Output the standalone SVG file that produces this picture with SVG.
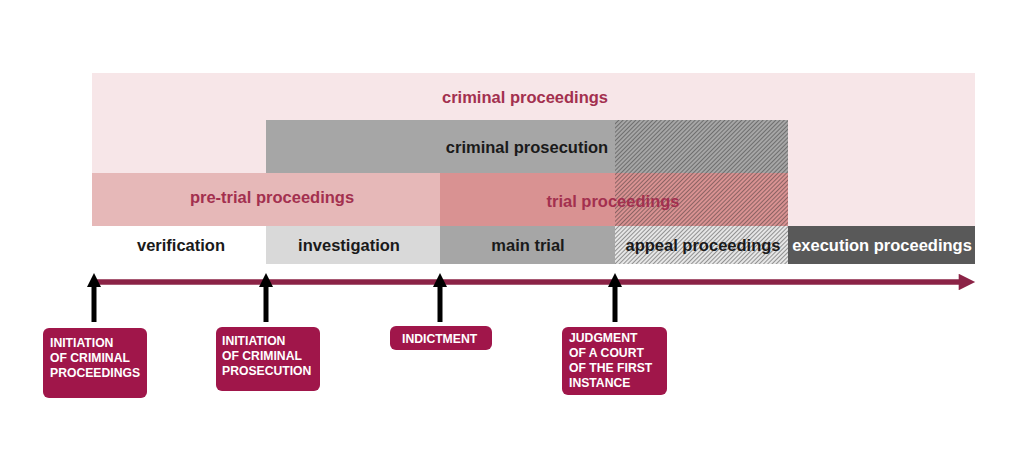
<svg xmlns="http://www.w3.org/2000/svg" width="1024" height="463" viewBox="0 0 1024 463">
<defs>
<style>
.lbl{font-family:"Liberation Sans",Arial,sans-serif;font-weight:bold;font-size:16.5px;text-anchor:middle}
.red{fill:#a3304f}
.blk{fill:#1a1a1a}
.wht{fill:#ffffff}
.box{fill:#a0164a}
.bt{font-family:"Liberation Sans",Arial,sans-serif;font-weight:bold;font-size:12.2px;fill:#ffffff}
.up{stroke:#000;stroke-width:5;fill:none}
</style>
<pattern id="hatch" patternUnits="userSpaceOnUse" width="3" height="3" patternTransform="rotate(45)">
<rect width="3" height="3" fill="none"/>
<line x1="0" y1="0" x2="0" y2="3" stroke="#2a2a2a" stroke-width="0.9"/>
</pattern>
<marker id="ah" viewBox="0 0 10 10" refX="2" refY="5" markerWidth="4" markerHeight="3" orient="auto" markerUnits="strokeWidth">
<path d="M0,0 L10,5 L0,10 z" fill="#8b2346"/>
</marker>
<marker id="uh" viewBox="0 0 10 10" refX="5" refY="5" markerWidth="3" markerHeight="2.8" orient="auto" markerUnits="strokeWidth">
<path d="M0,0 L10,5 L0,10 z" fill="#000"/>
</marker>
</defs>
<rect width="1024" height="463" fill="#ffffff"/>
<g id="criminal-proceedings">
<rect x="92" y="73" width="883" height="154" fill="#f7e6e8"/>
<text class="lbl red" x="525" y="103">criminal proceedings</text>
</g>
<g id="criminal-prosecution">
<rect x="266" y="120" width="522" height="53" fill="#a6a6a6"/>
<rect x="615" y="120" width="173" height="53" fill="url(#hatch)"/>
<text class="lbl blk" x="527" y="153">criminal prosecution</text>
</g>
<g id="pre-trial-proceedings">
<rect x="92" y="173" width="348" height="53" fill="#e6b8b8"/>
<text class="lbl red" x="272" y="203">pre-trial proceedings</text>
</g>
<g id="trial-proceedings">
<rect x="440" y="173" width="348" height="53" fill="#d99292"/>
<rect x="615" y="173" width="173" height="53" fill="url(#hatch)"/>
<text class="lbl red" x="613" y="207">trial proceedings</text>
</g>
<g id="verification">
<rect x="92" y="226" width="174" height="38" fill="#ffffff"/>
<text class="lbl blk" x="181" y="251">verification</text>
</g>
<g id="investigation">
<rect x="266" y="226" width="174" height="38" fill="#d9d9d9"/>
<text class="lbl blk" x="349" y="251">investigation</text>
</g>
<g id="main-trial">
<rect x="440" y="226" width="175" height="38" fill="#a6a6a6"/>
<text class="lbl blk" x="528" y="251">main trial</text>
</g>
<g id="appeal-proceedings">
<rect x="615" y="226" width="173" height="38" fill="#e6e6e6"/>
<rect x="615" y="226" width="173" height="38" fill="url(#hatch)"/>
<text class="lbl blk" x="703" y="251">appeal proceedings</text>
</g>
<g id="execution-proceedings">
<rect x="788" y="226" width="187" height="38" fill="#595959"/>
<text class="lbl wht" x="882" y="251">execution proceedings</text>
</g>
<g id="connectors">
<line x1="94" y1="282" x2="962" y2="282" stroke="#8b2346" stroke-width="5.5" marker-end="url(#ah)"/>
<line class="up" x1="94" y1="322" x2="94" y2="280" marker-end="url(#uh)"/>
<line class="up" x1="266" y1="322" x2="266" y2="280" marker-end="url(#uh)"/>
<line class="up" x1="440" y1="322" x2="440" y2="280" marker-end="url(#uh)"/>
<line class="up" x1="615" y1="322" x2="615" y2="280" marker-end="url(#uh)"/>
</g>
<g id="initiation-criminal-proceedings">
<rect class="box" x="43" y="328" width="104" height="70" rx="6"/>
<text class="bt" x="50" y="347">INITIATION</text>
<text class="bt" x="50" y="362">OF CRIMINAL</text>
<text class="bt" x="50" y="377">PROCEEDINGS</text>
</g>
<g id="initiation-criminal-prosecution">
<rect class="box" x="216" y="327" width="104" height="64" rx="6"/>
<text class="bt" x="222" y="345">INITIATION</text>
<text class="bt" x="222" y="360">OF CRIMINAL</text>
<text class="bt" x="222" y="375">PROSECUTION</text>
</g>
<g id="indictment">
<rect class="box" x="390" y="326" width="102" height="24" rx="6"/>
<text class="bt" x="402" y="343">INDICTMENT</text>
</g>
<g id="judgment">
<rect class="box" x="562" y="327" width="105" height="68" rx="6"/>
<text class="bt" x="569" y="342">JUDGMENT</text>
<text class="bt" x="569" y="357">OF A COURT</text>
<text class="bt" x="569" y="372">OF THE FIRST</text>
<text class="bt" x="569" y="387">INSTANCE</text>
</g>
</svg>
